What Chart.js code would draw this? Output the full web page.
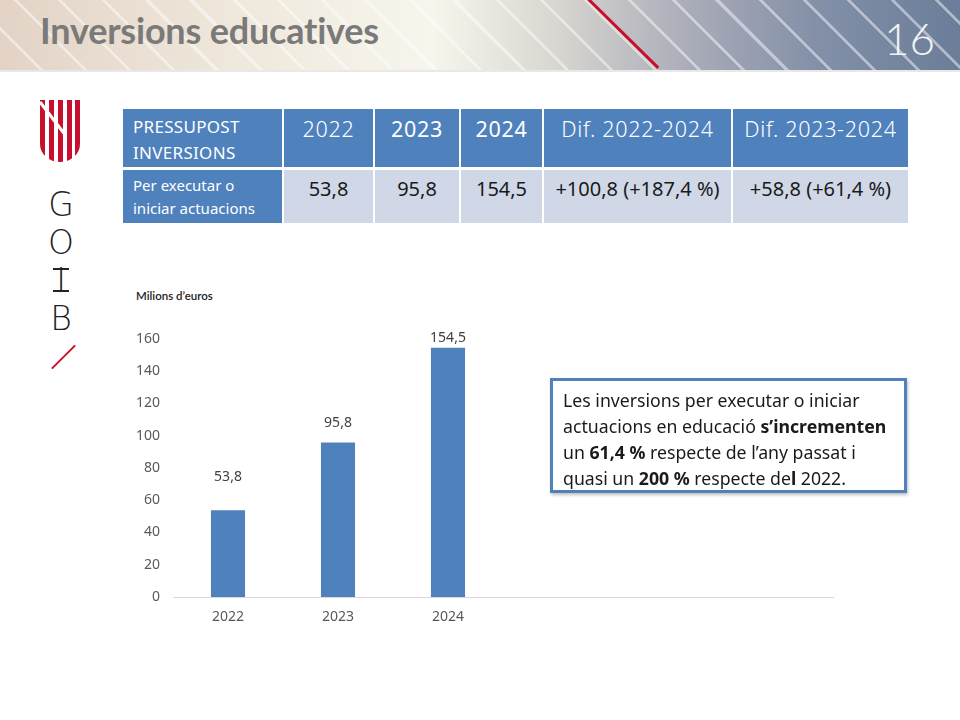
<!DOCTYPE html>
<html><head><meta charset="utf-8">
<script src="https://cdn.jsdelivr.net/npm/chart.js@4"></script>
<style>
html,body{margin:0;padding:0;}
body{width:960px;height:720px;position:relative;background:#fff;font-family:"Noto Sans",sans-serif;overflow:hidden;}
#hdr{position:absolute;left:0;top:0;width:960px;height:70px;
 background:
 repeating-linear-gradient(45deg, rgba(255,255,255,0) 0px, rgba(255,255,255,0) 28px, rgba(255,255,255,0.45) 28px, rgba(255,255,255,0.45) 31px),
 linear-gradient(90deg,#e3d3c6 0%,#efe8dc 25%,#f7f6ec 45%,#d8d6d0 58%,#a9abb8 72%,#8390a8 85%,#6b7d99 100%);}
#hdrline{position:absolute;left:0;top:70px;width:960px;height:2px;background:#e8e8e8;}
#redline{position:absolute;left:583px;top:-4px;width:3px;height:104px;background:#c8102e;transform-origin:top left;transform:rotate(-45.5deg);}
#title{position:absolute;left:40px;top:8px;font-family:Lato,sans-serif;font-weight:700;font-size:36px;color:#7a7a7a;letter-spacing:-0.2px;}
#num{position:absolute;left:884px;top:12px;font-family:Lato,sans-serif;font-weight:300;font-size:44px;color:#f4f4f4;}
#shield{position:absolute;left:40px;top:100px;width:40px;height:62px;}
#goib{position:absolute;left:45px;top:186px;width:32px;font-family:"DejaVu Sans",sans-serif;font-weight:200;font-size:33px;line-height:38px;color:#222;text-align:center;}
#goib .i{position:relative;display:inline-block;line-height:1;vertical-align:baseline;}
#goib .i::before,#goib .i::after{content:"";position:absolute;left:50%;margin-left:-8px;width:16px;height:2px;background:#222;}
#goib .i::before{top:4px;}
#goib .i::after{top:26px;}
#slash{position:absolute;left:47px;top:356px;width:33px;height:2px;background:#c8102e;transform:rotate(-45deg);}
#tbl{position:absolute;left:123px;top:109px;display:grid;grid-template-columns:159px 89px 84px 81px 187px 175px;grid-template-rows:58px 53px;column-gap:2px;row-gap:3px;}
#tbl div{box-sizing:border-box;}
.h{background:#4f81bd;color:#fff;font-size:21.5px;text-align:center;font-weight:350;padding-top:5px;letter-spacing:0.7px;}
.h.f{font-size:17px;text-align:left;padding-left:10px;line-height:26px;padding-top:5px;font-weight:400;letter-spacing:0.3px;}
.d{background:#d0d8e8;color:#1a1a1a;font-size:20px;text-align:center;padding-top:5px;font-weight:400;}
.d.f{background:#4f81bd;color:#fff;font-size:15px;text-align:left;padding-left:10px;line-height:23px;padding-top:4px;font-weight:400;}
#unit{position:absolute;left:136px;top:289px;font-size:11.5px;font-weight:600;color:#222;font-family:Lato,sans-serif;}
#cw{position:absolute;left:120px;top:320px;width:720px;height:310px;}
#box{position:absolute;left:550px;top:378px;border:3px solid #4f81bd;box-shadow:1px 2px 3px rgba(0,0,0,0.25);padding:6px 6px 0 10px;box-sizing:content-box;font-size:17.7px;line-height:26px;color:#1a1a1a;width:335px;height:103px;}
#box b{font-weight:700;}
</style></head><body>
<div id="hdr"></div><div id="hdrline"></div><div id="redline"></div>
<div id="title">Inversions educatives</div>
<div id="num">16</div>
<svg id="shield" viewBox="0 0 40 62">
 <defs><clipPath id="sc"><path d="M0 0 H40 V44 A20 18 0 0 1 0 44 Z"/></clipPath></defs>
 <g clip-path="url(#sc)" fill="#c8102e">
  <rect x="0" y="0" width="5" height="62"/><rect x="9" y="0" width="5" height="62"/>
  <rect x="18" y="0" width="5" height="62"/><rect x="27" y="0" width="5" height="62"/>
  <rect x="35" y="0" width="5" height="62"/>
 </g>
 <line x1="0" y1="2" x2="26" y2="36" stroke="#fff" stroke-width="3"/>
</svg>
<div id="goib">G<br>O<br><span class="i">I</span><br>B</div>
<div id="slash"></div>
<div id="tbl">
 <div class="h f">PRESSUPOST<br>INVERSIONS</div><div class="h" style="font-weight:300">2022</div><div class="h" style="font-weight:400">2023</div><div class="h" style="font-weight:400">2024</div><div class="h">Dif. 2022-2024</div><div class="h">Dif. 2023-2024</div>
 <div class="d f">Per executar o<br>iniciar actuacions</div><div class="d">53,8</div><div class="d">95,8</div><div class="d">154,5</div><div class="d">+100,8 (+187,4&nbsp;%)</div><div class="d">+58,8 (+61,4&nbsp;%)</div>
</div>
<div id="unit">Milions d’euros</div>
<div id="cw"><canvas id="c" width="720" height="310"></canvas></div>
<div id="box">Les inversions per executar o iniciar actuacions en educació <b>s’incrementen</b> un <b>61,4 %</b> respecte de l’any passat i quasi un <b>200 %</b> respecte de<b>l</b> 2022.</div>
<script>
const categories = ["2022", "2023", "2024", "", "", ""];
const values = [53.8, 95.8, 154.5, null, null, null];
const valueLabels = ["53,8", "95,8", "154,5"];
const yTicks = [0, 20, 40, 60, 80, 100, 120, 140, 160];

const labelPlugin = {
  id: 'valLabels',
  afterDatasetsDraw(chart, args, opts) {
    const ctx = chart.ctx;
    const meta = chart.getDatasetMeta(0);
    ctx.save();
    ctx.font = '14px "Noto Sans", sans-serif';
    ctx.fillStyle = '#404040';
    ctx.textAlign = 'center';
    ctx.textBaseline = 'bottom';
    meta.data.forEach((bar, i) => {
      if (values[i] == null) return;
      ctx.fillText(valueLabels[i], bar.x, bar.y - opts.offsets[i]);
    });
    ctx.restore();
  }
};

new Chart(document.getElementById('c'), {
  type: 'bar',
  data: { labels: categories, datasets: [{ data: values, backgroundColor: '#4f81bd', barPercentage: 0.31, categoryPercentage: 1 }] },
  options: {
    responsive: false, animation: false,
    layout: { padding: { top: 19, right: 7, left: 0, bottom: 0 } },
    plugins: { legend: { display: false }, tooltip: { enabled: false }, valLabels: { offsets: [26, 13, 3] } },
    scales: {
      x: {
        grid: { display: false },
        border: { display: true, color: '#d9d9d9', width: 1 },
        ticks: { color: '#595959', font: { size: 14, family: 'Noto Sans' }, padding: 4 },
        afterFit(s) { s.height = 33; }
      },
      y: {
        min: 0, max: 160,
        afterBuildTicks(s) { s.ticks = yTicks.map(v => ({ value: v })); },
        grid: { display: false },
        border: { display: false },
        ticks: { color: '#595959', font: { size: 14, family: 'Noto Sans' }, padding: 5 },
        afterFit(s) { s.width = 53; }
      }
    }
  },
  plugins: [labelPlugin]
});
</script>
</body></html>
